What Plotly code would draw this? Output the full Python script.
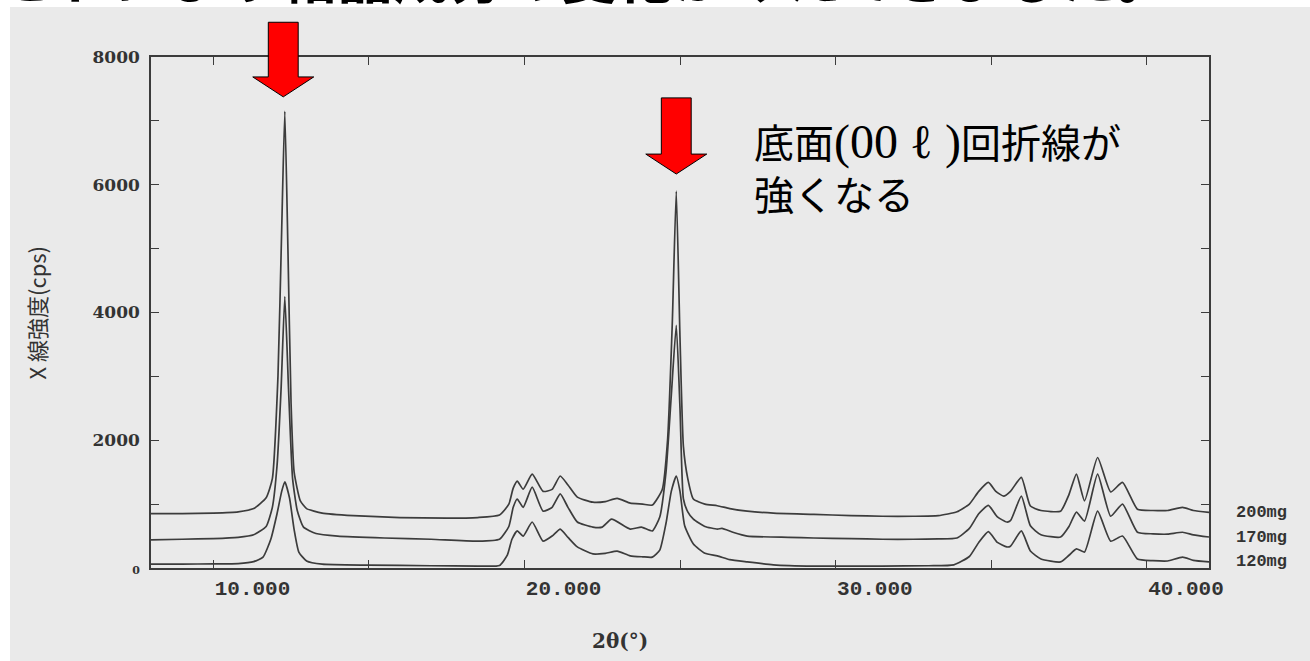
import plotly.graph_objects as go

# ---- data ----
x_200 = [8.0, 9.0, 10.0, 10.8, 11.3, 11.7, 11.9, 12.08, 12.2, 12.3, 12.4, 12.5, 12.6, 12.8, 13.0, 13.5,
         14.5, 16.0, 17.5, 18.5, 19.2, 19.5, 19.64, 19.77, 19.96, 20.25, 20.6, 20.89, 21.15, 21.4, 21.7,
         22.2, 22.6, 22.98, 23.4, 23.8, 24.11, 24.43, 24.6, 24.75, 24.88, 25.0, 25.11, 25.25, 25.43, 25.8,
         26.2, 26.6, 27.16, 28.0, 29.3, 30.5, 31.5, 32.5, 33.3, 33.9, 34.3, 34.6, 34.91, 35.15, 35.4,
         35.62, 35.97, 36.26, 36.6, 37.23, 37.5, 37.74, 38.0, 38.42, 38.84, 39.22, 39.7, 40.2, 40.67,
         41.15, 41.5, 42.0]
y_200 = [850, 850, 860, 880, 930, 1100, 1400, 3000, 5300, 7150, 5000, 2600, 1500, 1050, 930, 860,
         820, 790, 780, 790, 830, 1000, 1250, 1360, 1235, 1470, 1200, 1230, 1440, 1300, 1110,
         1030, 1040, 1090, 1015, 1000, 985, 1230, 2000, 3800, 5900, 3600, 1900, 1400, 1080, 1000,
         975, 930, 890, 860, 840, 820, 810, 810, 820, 880, 1000, 1200, 1340, 1200, 1125,
         1200, 1420, 970, 900, 890, 1150, 1470, 1050, 1730, 1190, 1340, 920, 900, 900,
         950, 900, 870]

x_170 = [8.0, 9.0, 10.0, 10.8, 11.3, 11.7, 11.9, 12.05, 12.18, 12.3, 12.42, 12.55, 12.7, 12.9, 13.3,
         14.0, 15.5, 17.0, 18.5, 19.2, 19.5, 19.64, 19.77, 19.96, 20.25, 20.6, 20.89, 21.15, 21.4, 21.7,
         22.2, 22.5, 22.8, 23.4, 23.76, 24.11, 24.35, 24.55, 24.72, 24.88, 25.0, 25.11, 25.25, 25.43,
         25.8, 26.2, 26.35, 26.7, 27.16, 28.5, 29.3, 30.5, 31.5, 32.5, 33.3, 33.9, 34.3, 34.6, 34.91,
         35.2, 35.5, 35.62, 35.97, 36.26, 36.6, 37.23, 37.5, 37.74, 38.0, 38.42, 38.84, 39.22, 39.7,
         40.2, 40.67, 41.15, 41.5, 42.0]
y_170 = [440, 450, 460, 480, 520, 650, 950, 1600, 2800, 4250, 2800, 1400, 900, 640, 540,
         500, 470, 450, 420, 450, 650, 950, 1080, 950, 1265, 890, 950, 1160, 950, 720,
         640, 640, 765, 610, 640, 580, 800, 1500, 2700, 3800, 2500, 1080, 880, 765,
         650, 610, 620, 560, 500, 480, 470, 460, 450, 450, 455, 470, 620, 850, 980,
         800, 720, 740, 1125, 660, 520, 485, 650, 875, 735, 1470, 810, 1000, 560,
         535, 530, 560, 520, 485]

x_120 = [8.0, 9.0, 10.0, 10.8, 11.3, 11.6, 11.85, 12.05, 12.2, 12.3, 12.45, 12.6, 12.75, 13.0, 13.5,
         15.0, 17.0, 18.5, 19.2, 19.45, 19.6, 19.77, 19.96, 20.25, 20.6, 20.89, 21.15, 21.4, 21.7,
         22.2, 22.6, 22.98, 23.4, 23.8, 24.11, 24.35, 24.55, 24.72, 24.88, 25.0, 25.15, 25.43, 25.8,
         26.2, 26.6, 27.16, 28.0, 29.3, 31.5, 33.0, 33.8, 34.3, 34.6, 34.91, 35.2, 35.5, 35.62, 35.97,
         36.26, 36.6, 37.23, 37.5, 37.74, 38.0, 38.42, 38.84, 39.22, 39.7, 40.2, 40.67, 41.15, 41.5, 42.0]
y_120 = [60, 60, 65, 70, 100, 170, 450, 850, 1200, 1350, 1100, 600, 250, 110, 60,
         45, 35, 30, 40, 200, 450, 580, 500, 720, 420, 500, 610, 480, 330,
         220, 230, 265, 190, 175, 170, 280, 700, 1200, 1440, 1200, 660, 375, 230,
         190, 130, 95, 50, 30, 30, 35, 50, 180, 400, 570, 400, 330, 340, 580,
         265, 140, 95, 200, 300, 250, 890, 420, 500, 140, 115, 110, 170, 120, 95]

series_names = ["200mg", "170mg", "120mg"]
x_ticks = [10, 15, 20, 25, 30, 35, 40]
x_tick_text = ["10.000", "", "20.000", "", "30.000", "", "40.000"]
y_ticks = [0, 2000, 4000, 6000, 8000]
y_tick_text = ['<span style="font-size:11px">0</span>', "2000", "4000", "6000", "8000"]

LINE = "#3c3c3c"
BG = "#eaeaea"

fig = go.Figure()
for xs, ys, nm in [(x_200, y_200, series_names[0]), (x_170, y_170, series_names[1]), (x_120, y_120, series_names[2])]:
    fig.add_trace(go.Scatter(x=xs, y=ys, mode="lines", name=nm,
                             line=dict(color=LINE, width=1.7, shape="spline", smoothing=0.5),
                             showlegend=False, hoverinfo="skip"))
    # right-hand series label at the end value
    fig.add_annotation(x=1.024, xref="paper", y=ys[-1], yref="y", text=nm, showarrow=False,
                       xanchor="left", yanchor="middle",
                       font=dict(family="Liberation Mono", size=17, color="#333", weight="bold"))

# scanned-paper grey area
fig.add_shape(type="rect", xref="paper", yref="paper", x0=-0.1333, x1=1.1, y0=-0.19, y1=1.0978,
              fillcolor=BG, line_width=0, layer="below")

# red arrows pointing at the two basal peaks
def arrow_path(xc, y_top, y_head, y_tip, hs=0.48, hh=0.98):
    return (f"M {xc-hs},{y_top} L {xc+hs},{y_top} L {xc+hs},{y_head} L {xc+hh},{y_head} "
            f"L {xc},{y_tip} L {xc-hh},{y_head} L {xc-hs},{y_head} Z")

peak1_x = x_200[y_200.index(max(y_200))]
peak2_x = 24.88
fig.add_shape(type="path", xref="x", yref="paper", path=arrow_path(peak1_x - 0.05, 1.068, 0.961, 0.922),
              fillcolor="#ff0000", line=dict(color="#000", width=1), layer="above")
fig.add_shape(type="path", xref="x", yref="paper", path=arrow_path(peak2_x, 0.920, 0.810, 0.771),
              fillcolor="#ff0000", line=dict(color="#000", width=1), layer="above")

# note text
fig.add_annotation(xref="paper", yref="paper", x=0.568, y=0.785, xanchor="left", yanchor="middle",
                   align="left", showarrow=False,
                   text='底面<span style="font-family:Liberation Serif;font-size:48px">(00 ℓ )</span>回折線が<br>強くなる',
                   font=dict(family="Noto Sans CJK JP", size=40, color="#000"))

# cut-off heading at the very top
fig.add_annotation(xref="paper", yref="paper", x=-0.143, y=1.080, xanchor="left", yanchor="bottom",
                   showarrow=False, text="これにより結晶成分の変化がみえてきました。",
                   font=dict(family="Noto Sans CJK JP", size=56, color="#000", weight="bold"))

# axis titles
fig.add_annotation(xref="paper", yref="paper", x=-0.1096, y=0.5, textangle=-90, showarrow=False,
                   xanchor="center", yanchor="middle",
                   text="X 線強度(cps)", font=dict(family="Noto Sans CJK JP", size=22, color="#333"))
fig.add_annotation(xref="paper", yref="paper", x=0.443, y=-0.143, showarrow=False,
                   xanchor="center", yanchor="middle",
                   text="2θ(°)", font=dict(family="DejaVu Serif", size=20, color="#333", weight="bold"))

fig.update_xaxes(range=[8, 42], tickvals=x_ticks, ticktext=x_tick_text, ticks="inside", ticklen=8,
                 tickcolor=LINE, tickwidth=1.3, ticklabelposition="outside right",
                 showline=True, linecolor=LINE, linewidth=1.6, mirror="ticks", showgrid=False, zeroline=False,
                 tickfont=dict(family="Liberation Mono", size=21, color="#333", weight="bold"))
fig.update_yaxes(range=[0, 8000], tickvals=y_ticks, ticktext=y_tick_text, ticks="inside", ticklen=8,
                 tickcolor=LINE, tickwidth=1.3, minor=dict(dtick=1000, ticks="inside", ticklen=8, tickcolor=LINE),
                 ticklabelstandoff=6,
                 showline=True, linecolor=LINE, linewidth=1.6, mirror="ticks", showgrid=False, zeroline=False,
                 tickfont=dict(family="DejaVu Serif", size=17, color="#333", weight="bold"))

fig.update_layout(width=1310, height=661, margin=dict(l=151, r=101, t=57, b=93),
                  paper_bgcolor="#ffffff", plot_bgcolor="rgba(0,0,0,0)")

fig.write_html("out.html")
